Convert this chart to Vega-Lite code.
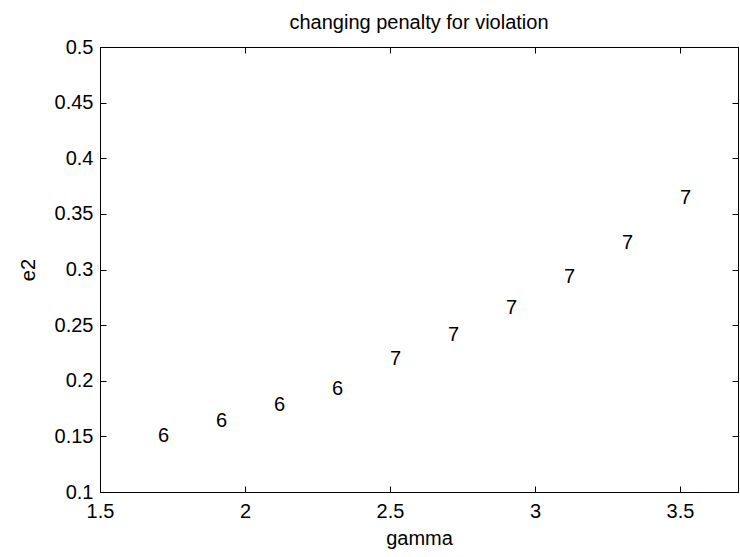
{
  "$schema": "https://vega.github.io/schema/vega-lite/v6.json",
  "width": 638,
  "height": 445,
  "autosize": {"type": "none"},
  "padding": {"left": 100, "top": 47, "right": 2, "bottom": 65},
  "background": "white",
  "config": {
    "font": "Liberation Sans",
    "view": {"stroke": "black", "strokeWidth": 1},
    "axis": {
      "grid": false,
      "domainColor": "black",
      "domainWidth": 1,
      "tickColor": "black",
      "tickSize": -6,
      "labelFont": "Liberation Sans",
      "labelFontSize": 20,
      "labelColor": "black",
      "titleFont": "Liberation Sans",
      "titleFontSize": 20,
      "titleFontWeight": "normal",
      "titleColor": "black"
    }
  },
  "title": {
    "text": "changing penalty for violation",
    "fontSize": 20,
    "fontWeight": "normal",
    "font": "Liberation Sans",
    "color": "black",
    "offset": 4
  },
  "data": {
    "values": [
      {"gamma": 1.7, "e2": 0.150, "label": "6"},
      {"gamma": 1.9, "e2": 0.164, "label": "6"},
      {"gamma": 2.1, "e2": 0.178, "label": "6"},
      {"gamma": 2.3, "e2": 0.193, "label": "6"},
      {"gamma": 2.5, "e2": 0.220, "label": "7"},
      {"gamma": 2.7, "e2": 0.241, "label": "7"},
      {"gamma": 2.9, "e2": 0.265, "label": "7"},
      {"gamma": 3.1, "e2": 0.293, "label": "7"},
      {"gamma": 3.3, "e2": 0.324, "label": "7"},
      {"gamma": 3.5, "e2": 0.364, "label": "7"}
    ]
  },
  "layer": [
    {
      "mark": {"type": "text", "align": "left", "baseline": "middle", "fontSize": 20, "font": "Liberation Sans", "color": "black"},
      "encoding": {
        "x": {"field": "gamma", "type": "quantitative",
              "scale": {"domain": [1.5, 3.7], "nice": false, "zero": false},
              "axis": {"orient": "bottom", "values": [1.5, 2, 2.5, 3, 3.5], "format": "~g", "labelPadding": 15, "title": "gamma", "titlePadding": 7, "labelFlush": false}},
        "y": {"field": "e2", "type": "quantitative",
              "scale": {"domain": [0.1, 0.5], "nice": false, "zero": false},
              "axis": {"orient": "left", "values": [0.1, 0.15, 0.2, 0.25, 0.3, 0.35, 0.4, 0.45, 0.5], "format": "~g", "labelPadding": 13, "title": "e2", "titlePadding": 16, "labelFlush": false}},
        "text": {"field": "label"}
      }
    },
    {
      "mark": {"type": "text", "opacity": 0},
      "encoding": {
        "x": {"field": "gamma", "type": "quantitative",
              "axis": {"orient": "top", "values": [1.5, 2, 2.5, 3, 3.5], "labels": false, "title": null}},
        "y": {"field": "e2", "type": "quantitative",
              "axis": {"orient": "right", "values": [0.1, 0.15, 0.2, 0.25, 0.3, 0.35, 0.4, 0.45, 0.5], "labels": false, "title": null}},
        "text": {"field": "label"}
      }
    }
  ],
  "resolve": {"axis": {"x": "independent", "y": "independent"}}
}
